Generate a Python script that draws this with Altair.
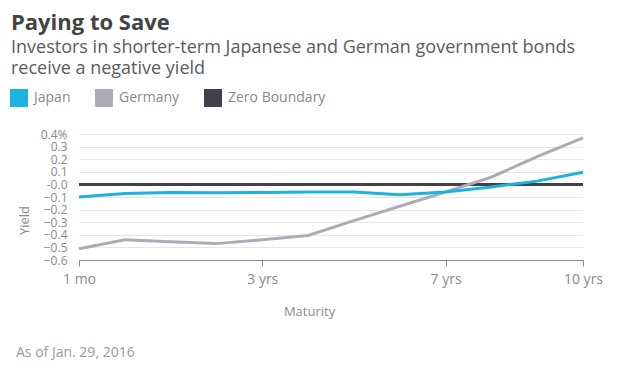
import altair as alt
import pandas as pd

maturities = ["1 mo", "6 mo", "1 yr", "2 yrs", "3 yrs", "4 yrs", "5 yrs",
              "6 yrs", "7 yrs", "8 yrs", "9 yrs", "10 yrs"]
japan = [-0.10, -0.072, -0.064, -0.066, -0.065, -0.06, -0.06, -0.083,
         -0.06, -0.02, 0.026, 0.096]
germany = [-0.51, -0.44, -0.455, -0.47, -0.44, -0.405, -0.287, -0.173,
           -0.06, 0.058, 0.22, 0.37]
zero = [0.0] * 12
series_names = ["Japan", "Germany", "Zero Boundary"]
series_colors = ["#1cb3e0", "#acacb6", "#40414b"]
shown_ticks = ["1 mo", "3 yrs", "7 yrs", "10 yrs"]
y_ticks = [-0.6, -0.5, -0.4, -0.3, -0.2, -0.1, 0.0, 0.1, 0.2, 0.3, 0.4]
title_text = "Paying to Save"
subtitle_lines = ["Investors in shorter-term Japanese and German government bonds",
                  "receive a negative yield"]
footnote = ["As of Jan. 29, 2016"]

rows = []
for name, vals in [("Zero Boundary", zero), ("Germany", germany), ("Japan", japan)]:
    for i, (m, v) in enumerate(zip(maturities, vals)):
        rows.append({"maturity": m, "series": name, "yield": v, "order": i})
df = pd.DataFrame(rows)

FONT = "Open Sans"

x_enc = alt.X("maturity:O", sort=maturities,
              scale=alt.Scale(type="point", padding=0),
              axis=alt.Axis(values=shown_ticks, labelAngle=0, title="Maturity",
                            tickSize=6, tickColor="#888888", domainColor="#888888",
                            labelPadding=6, labelFontSize=14, labelColor="#8a8a8a",
                            titleFontSize=13, titleFontWeight="normal",
                            titleColor="#8a8a8a", titleX=230, titleY=51,
                            titleAlign="center", titleBaseline="middle",
                            grid=False))
y_enc = alt.Y("yield:Q", scale=alt.Scale(domain=[-0.6, 0.4], nice=False, zero=False),
              axis=alt.Axis(values=y_ticks, title="Yield", domain=False, ticks=False,
                            grid=True,
                            labelExpr="abs(datum.value-0.4)<0.001 ? '0.4%' : (abs(datum.value)<0.001 ? '-0.0' : format(datum.value, '.1f'))",
                            labelFontSize=12, labelColor="#8a8a8a", labelPadding=12,
                            labelOverlap=False, labelFlush=False,
                            labelBaseline="middle",
                            gridColor="#e6e6e6", titleFontSize=13,
                            titleFontWeight="normal", titleColor="#8a8a8a",
                            titleX=-55, titleY=86, titleAlign="center",
                            titleBaseline="middle"))
color_enc = alt.Color("series:N",
                      scale=alt.Scale(domain=series_names, range=series_colors),
                      legend=alt.Legend(title=None, orient="none", direction="horizontal",
                                        legendX=-69, legendY=-45,
                                        symbolType="square", symbolSize=324,
                                        symbolStrokeWidth=0, symbolOpacity=1,
                                        labelFontSize=14, labelColor="#8a8a8a",
                                        labelOffset=6, columnPadding=24))

lines = alt.Chart(df).mark_line(strokeWidth=3).encode(
    x=x_enc, y=y_enc, order="order:Q", color=color_enc,
)

legend_sq = alt.Chart(df).mark_square(opacity=0, size=324).encode(
    x=x_enc, y=y_enc, color=color_enc,
)

note = alt.Chart(pd.DataFrame({"note": footnote})).mark_text(
    align="left", baseline="alphabetic", fontSize=14, color="#9a9a9a", font=FONT
).encode(x=alt.value(-63), y=alt.value(223), text="note:N")

chart = alt.layer(legend_sq, lines, note).properties(
    width=504, height=126,
    title=alt.TitleParams(text=title_text, subtitle=subtitle_lines, anchor="start",
                          frame="group", dx=-68, fontSize=22, fontWeight="bold",
                          color="#434343", subtitleFontSize=18,
                          subtitleColor="#5c5c5c", subtitleLineHeight=21,
                          subtitlePadding=4, offset=10, font=FONT,
                          subtitleFont=FONT),
    autosize=alt.AutoSizeParams(type="none"),
    padding={"left": 71, "top": 126, "right": 29, "bottom": 113},
).configure(font=FONT).configure_view(stroke=None)

chart.save("out.html", embed_options={"renderer": "svg", "actions": False})
